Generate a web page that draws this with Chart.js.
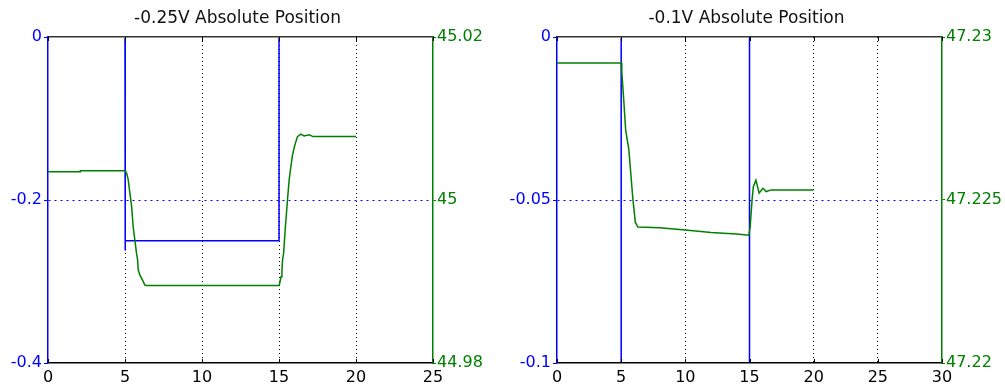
<!DOCTYPE html>
<html>
<head>
<meta charset="utf-8">
<script src="https://cdn.jsdelivr.net/npm/chart.js@4.4.0/dist/chart.umd.min.js"></script>
<style>
  html, body { margin: 0; padding: 0; background: #fff; }
  #wrap { position: relative; width: 1005px; height: 385px; }
  #chartA { position: absolute; left: 0; top: 0; }
  #chartB { position: absolute; left: 500px; top: 0; }
</style>
</head>
<body>
<div id="wrap">
  <canvas id="chartA" width="500" height="385"></canvas>
  <canvas id="chartB" width="505" height="385"></canvas>
</div>
<script>
// ---- left panel: -0.25V step ----
const leftTitle = '-0.25V Absolute Position';
const leftXTicks = [0, 5, 10, 15, 20, 25];
const leftVoltTicks = [-0.4, -0.2, 0];
const leftVoltLabels = ['-0.4', '-0.2', '0'];
const leftPosTicks = [44.98, 45, 45.02];
const leftPosLabels = ['44.98', '45', '45.02'];
const leftCmdT = [0, 5, 5, 5.03, 15, 15, 20];
const leftCmdV = [0, 0, -0.262, -0.25, -0.25, 0, 0];
const leftPosT = [0, 2.1, 2.1, 5.0, 5.05, 5.11, 5.21, 5.32, 5.43, 5.53, 5.64, 5.75, 5.82, 5.86, 5.97, 6.14, 6.29, 6.4,
  15.0, 15.02, 15.13, 15.19, 15.23, 15.3, 15.4, 15.55, 15.66, 15.77, 15.88, 16.03, 16.2, 16.42, 16.63, 16.96, 17.21, 20];
const leftPosV = [45.00348, 45.00348, 45.0036, 45.0036, 45.00344, 45.00328, 45.00246, 45.00082, 44.99918, 44.99672,
  44.99508, 44.99345, 44.99262, 44.9914, 44.99078, 44.99016, 44.98955, 44.9895,
  44.9895, 44.98955, 44.99057, 44.99139, 44.99262, 44.99345, 44.99631, 45.0, 45.00246, 45.00409, 45.00553,
  45.00676, 45.00778, 45.00808, 45.00787, 45.008, 45.00778, 45.0078];

// ---- right panel: -0.1V step ----
const rightTitle = '-0.1V Absolute Position';
const rightXTicks = [0, 5, 10, 15, 20, 25, 30];
const rightVoltTicks = [-0.1, -0.05, 0];
const rightVoltLabels = ['-0.1', '-0.05', '0'];
const rightPosTicks = [47.22, 47.225, 47.23];
const rightPosLabels = ['47.22', '47.225', '47.23'];
const rightCmdT = [0, 5, 5, 15, 15, 20];
const rightCmdV = [0, 0, -0.1, -0.1, 0, 0];
const rightPosT = [0, 5.0, 5.05, 5.2, 5.35, 5.6, 5.9, 6.1, 6.3, 8, 10, 12, 14, 14.95,
  15.05, 15.2, 15.3, 15.5, 15.75, 16.05, 16.3, 16.7, 20];
const rightPosV = [47.2292, 47.2292, 47.22893, 47.22807, 47.22715, 47.22654, 47.22509, 47.22432, 47.22417,
  47.22415, 47.22408, 47.224, 47.22396, 47.22392,
  47.22417, 47.2250, 47.22541, 47.22561, 47.22521, 47.22536, 47.22526, 47.22531, 47.22531];

const BLUE = '#0000ff';
const GREEN = '#008000';
Chart.defaults.font.family = '"DejaVu Sans", sans-serif';

// little inward tick marks on top and bottom edges, like the original plot
const innerTicks = {
  id: 'innerTicks',
  afterDatasetsDraw(chart) {
    const { ctx, chartArea, scales: { x } } = chart;
    ctx.save();
    ctx.strokeStyle = '#000';
    ctx.lineWidth = 1;
    x.ticks.forEach(t => {
      const px = Math.round(x.getPixelForValue(t.value)) + 0.5;
      ctx.beginPath();
      ctx.moveTo(px, chartArea.bottom);
      ctx.lineTo(px, chartArea.bottom - 4);
      ctx.moveTo(px, chartArea.top);
      ctx.lineTo(px, chartArea.top + 4);
      ctx.stroke();
    });
    ctx.restore();
  }
};

// center the title over the plot area instead of the whole canvas
const titleOverPlot = {
  id: 'titleOverPlot',
  beforeDraw(chart) {
    const tb = chart.titleBlock;
    if (!tb) return;
    tb.left = chart.chartArea.left - 3;
    tb.right = chart.chartArea.right - 3;
    tb.width = tb.right - tb.left;
  }
};

function pts(ts, vs) {
  return ts.map((t, i) => ({ x: t, y: vs[i] }));
}

function makeChart(id, p) {
  const xMax = p.xTicks[p.xTicks.length - 1];
  return new Chart(document.getElementById(id), {
    type: 'line',
    data: {
      datasets: [
        { data: pts(p.posT, p.posV), yAxisID: 'y2', borderColor: GREEN, borderWidth: 1.5, pointRadius: 0, tension: 0 },
        { data: pts(p.cmdT, p.cmdV), yAxisID: 'y', borderColor: BLUE, borderWidth: 1.5, pointRadius: 0, tension: 0,
          clip: { left: 0, top: -1, right: 0, bottom: -1 } }
      ]
    },
    options: {
      responsive: false,
      animation: false,
      devicePixelRatio: 1,
      layout: { padding: 0 },
      plugins: {
        legend: { display: false },
        tooltip: { enabled: false },
        title: {
          display: true,
          text: p.title,
          color: '#111',
          font: { size: 17, weight: 'normal' },
          padding: { top: 8, bottom: 8.6 }
        }
      },
      scales: {
        x: {
          type: 'linear',
          position: 'bottom',
          min: 0, max: xMax,
          z: 1,
          afterBuildTicks: s => { s.ticks = p.xTicks.map(v => ({ value: v })); },
          afterFit: s => { s.height = 22; },
          ticks: { color: '#000', font: { size: 16 }, padding: 5, maxRotation: 0, autoSkip: false },
          grid: {
            drawTicks: false,
            color: c => (c.index === 0 || c.index === p.xTicks.length - 1) ? 'rgba(0,0,0,0)' : '#000',
            lineWidth: 1
          },
          border: { color: '#000', width: 1.5, dash: [1, 3] }
        },
        xTop: {
          type: 'linear',
          position: 'top',
          min: 0, max: xMax,
          z: 1,
          afterFit: s => { s.height = 0; },
          ticks: { display: false },
          grid: { display: false, drawTicks: false },
          border: { color: '#333', width: 1.5 }
        },
        y: {
          type: 'linear',
          position: 'left',
          min: p.voltTicks[0], max: p.voltTicks[2],
          afterBuildTicks: s => { s.ticks = p.voltTicks.map(v => ({ value: v })); },
          afterFit: s => { s.width = p.leftW; },
          ticks: {
            color: BLUE, font: { size: 16 }, padding: 2,
            callback: (v, i) => p.voltLabels[i]
          },
          grid: {
            color: c => c.index === 1 ? BLUE : 'rgba(0,0,0,0)',
            tickColor: BLUE, tickLength: 4, lineWidth: 1
          },
          border: { color: BLUE, width: 1.5, dash: [2, 4] }
        },
        y2: {
          type: 'linear',
          position: 'right',
          min: p.posTicks[0], max: p.posTicks[2],
          afterBuildTicks: s => { s.ticks = p.posTicks.map(v => ({ value: v })); },
          afterFit: s => { s.width = p.rightW; },
          ticks: {
            color: GREEN, font: { size: 16 }, padding: 1,
            callback: (v, i) => p.posLabels[i]
          },
          grid: { drawOnChartArea: false, tickColor: GREEN, tickLength: 3 },
          border: { color: GREEN, width: 1.5 }
        }
      }
    },
    plugins: [innerTicks, titleOverPlot]
  });
}

makeChart('chartA', {
  title: leftTitle, xTicks: leftXTicks,
  voltTicks: leftVoltTicks, voltLabels: leftVoltLabels,
  posTicks: leftPosTicks, posLabels: leftPosLabels,
  cmdT: leftCmdT, cmdV: leftCmdV, posT: leftPosT, posV: leftPosV,
  leftW: 48, rightW: 67
});

makeChart('chartB', {
  title: rightTitle, xTicks: rightXTicks,
  voltTicks: rightVoltTicks, voltLabels: rightVoltLabels,
  posTicks: rightPosTicks, posLabels: rightPosLabels,
  cmdT: rightCmdT, cmdV: rightCmdV, posT: rightPosT, posV: rightPosV,
  leftW: 57, rightW: 63
});
</script>
</body>
</html>
